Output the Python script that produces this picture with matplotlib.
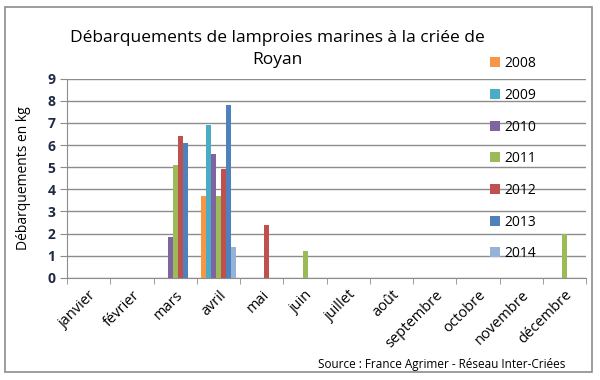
import numpy as np
import matplotlib.pyplot as plt
from matplotlib.patches import Rectangle

# months (x categories)
mois = ['janvier', 'février', 'mars', 'avril', 'mai', 'juin', 'juillet',
        'août', 'septembre', 'octobre', 'novembre', 'décembre']

annees = ['2008', '2009', '2010', '2011', '2012', '2013', '2014']

# landings in kg, one list per year
v2008 = [0, 0, 0, 3.7, 0, 0, 0, 0, 0, 0, 0, 0]
v2009 = [0, 0, 0, 6.9, 0, 0, 0, 0, 0, 0, 0, 0]
v2010 = [0, 0, 1.85, 5.6, 0, 0, 0, 0, 0, 0, 0, 0]
v2011 = [0, 0, 5.1, 3.7, 0, 1.2, 0, 0, 0, 0, 0, 2.0]
v2012 = [0, 0, 6.4, 4.9, 2.4, 0, 0, 0, 0, 0, 0, 0]
v2013 = [0, 0, 6.1, 7.8, 0, 0, 0, 0, 0, 0, 0, 0]
v2014 = [0, 0, 0, 1.4, 0, 0, 0, 0, 0, 0, 0, 0]
series = [v2008, v2009, v2010, v2011, v2012, v2013, v2014]

couleurs = ['#F79646', '#4BACC6', '#8064A2', '#9BBB59', '#C0504D', '#4F81BD', '#95B3D7']

plt.rcParams['font.family'] = ['Open Sans', 'DejaVu Sans']

fig = plt.figure(figsize=(6, 3.8), dpi=100)
ax = fig.add_axes([0.112, 0.269, 0.865, 0.524])

x = np.arange(len(mois))
w = 0.113
handles = []
for i, (vals, c) in enumerate(zip(series, couleurs)):
    b = ax.bar(x + (i - 3) * w, vals, width=w, color=c, edgecolor='none', zorder=3)
    handles.append(b)

ax.set_xlim(-0.5, len(mois) - 0.5)
ax.set_ylim(0, 9)
ax.set_yticks(range(0, 10))
ax.yaxis.grid(True, color='#8c8c8c', linewidth=1, zorder=0)
ax.set_xticks(x)
ax.set_xticklabels(mois, rotation=45, ha='right', rotation_mode='anchor', fontsize=10.5)
ax.set_xticks(np.arange(-0.5, len(mois)), minor=True)
ax.tick_params(axis='x', which='major', length=0, pad=7)
ax.tick_params(axis='x', which='minor', length=4, color='#8c8c8c')
ax.tick_params(axis='y', length=5, color='#8c8c8c', labelsize=10, labelcolor='#1F2A44')
for lbl in ax.get_yticklabels():
    lbl.set_fontweight('bold')
for s in ['top', 'right']:
    ax.spines[s].set_visible(False)
ax.spines['left'].set_color('#8c8c8c')
ax.spines['bottom'].set_color('#8c8c8c')

ax.set_ylabel('Débarquements en kg', fontsize=10, labelpad=12)

fig.text(0.463, 0.872, 'Débarquements de lamproies marines à la criée de\nRoyan',
         ha='center', va='center', fontsize=12.5, linespacing=1.5)

fig.legend(handles, annees, loc='upper left', bbox_to_anchor=(0.795, 0.885),
           frameon=False, fontsize=10, handlelength=0.75, handleheight=0.75,
           handletextpad=0.3, labelspacing=1.2)

fig.text(0.942, 0.042, 'Source : France Agrimer - Réseau Inter-Criées',
         ha='right', va='center', fontsize=8.5)

fig.patches.append(Rectangle((0.009, 0.022), 0.977, 0.96, transform=fig.transFigure,
                             fill=False, edgecolor='#8c8c8c', linewidth=1.2))

fig.savefig('out.png', dpi=100)
